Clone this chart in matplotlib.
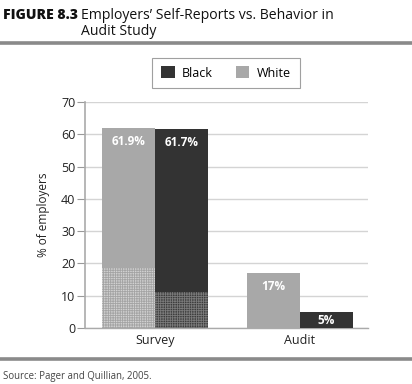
import numpy as np
import matplotlib
matplotlib.use("Agg")
import matplotlib.pyplot as plt
from matplotlib.patches import Patch

plt.rcParams['font.family'] = ['Open Sans', 'DejaVu Sans']
plt.rcParams['hatch.linewidth'] = 0.6

# data
categories = ['Survey', 'Audit']
white_vals = [61.9, 17]
black_vals = [61.7, 5]
white_hatched = [18.5, 0]   # grid-patterned lower portion
black_hatched = [11, 0]
white_labels = ['61.9%', '17%']
black_labels = ['61.7%', '5%']
yticks = [0, 10, 20, 30, 40, 50, 60, 70]

W, H = 412, 384
fig = plt.figure(figsize=(W / 100, H / 100), dpi=100)

# axes placed in pixel coordinates
left, right, top, bottom = 85, 368, 102, 328
ax = fig.add_axes([left / W, 1 - bottom / H, (right - left) / W, (bottom - top) / H])

x = np.arange(len(categories))
bw = 0.366
grey = '#a8a8a8'
dark = '#333333'

ax.bar(x - bw / 2, white_vals, bw, color=grey, zorder=3, linewidth=0)
ax.bar(x + bw / 2, black_vals, bw, color=dark, zorder=3, linewidth=0)
# hatched lower segments
ax.bar(x - bw / 2, white_hatched, bw, facecolor='#d2d2d2', edgecolor='#a4a4a4',
       hatch='+++++++', zorder=4, linewidth=0)
ax.bar(x + bw / 2, black_hatched, bw, facecolor='#3c3c3c', edgecolor='#7a7a7a',
       hatch='+++++++', zorder=4, linewidth=0)

for i in range(len(categories)):
    ax.annotate(white_labels[i], (x[i] - bw / 2, white_vals[i]), xytext=(0, -5),
                textcoords='offset points', ha='center', va='top',
                color='white', fontsize=8.5, fontweight='bold', zorder=5)
    ax.annotate(black_labels[i], (x[i] + bw / 2, black_vals[i]), xytext=(0, -5) if black_vals[i] > 10 else (0, -1.5),
                textcoords='offset points', ha='center', va='top',
                color='white', fontsize=8.5, fontweight='bold', zorder=5)

ax.set_xlim(-0.483, 1.469)
ax.set_ylim(0, 70)
ax.set_yticks(yticks)
ax.set_xticks(x)
ax.set_xticklabels(categories)
ax.tick_params(axis='y', length=6, color='#999999', labelsize=9, labelcolor='#222222', pad=1)
ax.tick_params(axis='x', length=0, labelsize=9, labelcolor='#222222', pad=4)
ax.yaxis.grid(True, color='#d4d4d4', linewidth=1, zorder=0)
ax.set_axisbelow(True)
for s in ['top', 'right']:
    ax.spines[s].set_visible(False)
ax.spines['left'].set_color('#aaaaaa')
ax.spines['left'].set_linewidth(1.2)
ax.spines['bottom'].set_color('#aaaaaa')
ax.spines['bottom'].set_linewidth(1)
ax.set_ylabel('% of employers', fontsize=8.5, color='#222222', labelpad=8)

handles = [Patch(facecolor=dark, edgecolor='none'), Patch(facecolor=grey, edgecolor='none')]
leg = fig.legend(handles, ['Black', 'White'], loc='center', ncol=2,
                 bbox_to_anchor=(226 / W, 1 - 73 / H), fontsize=9,
                 handlelength=1.1, handleheight=1.1, handletextpad=0.6,
                 columnspacing=1.8, fancybox=False, borderpad=0.7)
leg.get_frame().set_edgecolor('#888888')
leg.get_frame().set_linewidth(0.8)

# title block
fig.text(3 / W, 1 - 19 / H, 'FIGURE 8.3', fontsize=10.1, fontweight='heavy',
         color='#111111', va='baseline')
fig.text(81 / W, 1 - 19 / H, 'Employers\u2019 Self-Reports vs. Behavior in',
         fontsize=10.1, color='#111111', va='baseline')
fig.text(81 / W, 1 - 35 / H, 'Audit Study',
         fontsize=10.1, color='#111111', va='baseline')
fig.add_artist(plt.Line2D([0, 1], [1 - 43 / H, 1 - 43 / H], color='#8a8a8a', linewidth=2.6))
fig.add_artist(plt.Line2D([0, 1], [1 - 359 / H, 1 - 359 / H], color='#8a8a8a', linewidth=2.6))
fig.text(3 / W, 1 - 377 / H, 'Source: Pager and Quillian, 2005.', fontsize=6.9,
         color='#444444', va='center')

fig.savefig('out.png', dpi=100)
